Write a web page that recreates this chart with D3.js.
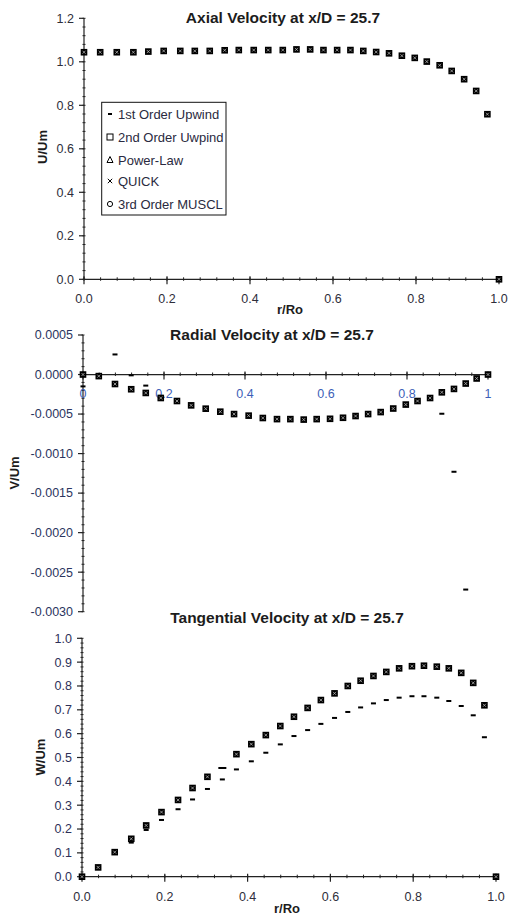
<!DOCTYPE html>
<html><head><meta charset="utf-8">
<script src="https://cdn.jsdelivr.net/npm/d3@7"></script>
<style>
body{margin:0;background:#fff;}
svg{display:block;font-family:"Liberation Sans",Arial,sans-serif;}
</style></head>
<body><svg id="c" width="509" height="916"></svg>
<script>
// ---- data ----
const rPos = [0,0.039,0.079,0.119,0.155,0.192,0.232,0.267,0.303,0.339,0.373,0.409,0.444,0.479,0.512,0.545,0.577,0.61,0.642,0.673,0.704,0.735,0.766,0.797,0.826,0.857,0.886,0.916,0.945,0.972,1.0];

const seriesNames = ["1st Order Upwind","2nd Order Uwpind","Power-Law","QUICK","3rd Order MUSCL"];

// Axial velocity U/Um (all schemes nearly coincide)
const U_main = [1.044,1.044,1.044,1.044,1.047,1.05,1.05,1.05,1.05,1.053,1.054,1.054,1.054,1.054,1.057,1.057,1.054,1.054,1.054,1.05,1.045,1.039,1.028,1.018,1.001,0.984,0.958,0.92,0.866,0.759,0];
const U_first = [1.044,1.044,1.044,1.044,1.047,1.05,1.05,1.05,1.05,1.053,1.054,1.054,1.054,1.054,1.057,1.057,1.054,1.054,1.054,1.05,1.045,1.039,1.028,1.018,1.001,0.984,0.958,0.92,0.866,0.759,0];

// Radial velocity V/Um
const V_main = [0,-0.00002,-0.00012,-0.000186,-0.000233,-0.000297,-0.000335,-0.00039,-0.000432,-0.00047,-0.0005,-0.00052,-0.00055,-0.000564,-0.000564,-0.00057,-0.000564,-0.00056,-0.000547,-0.000525,-0.0005,-0.000475,-0.00043,-0.00038,-0.000335,-0.000297,-0.000225,-0.000182,-0.000114,-0.00005,0];
const V_first = [-0.00015,-0.00001,0.000254,-0.00001,-0.00014,-0.00027,-0.000335,-0.00039,-0.000432,-0.00047,-0.0005,-0.00052,-0.00055,-0.000564,-0.000564,-0.00057,-0.000564,-0.00056,-0.000547,-0.000525,-0.0005,-0.000475,-0.00043,-0.00038,-0.000335,-0.000297,-0.000496,-0.00123,-0.00272,null,0];

// Tangential velocity W/Um
const W_main = [0,0.039,0.103,0.159,0.215,0.271,0.322,0.372,0.419,null,0.514,0.556,0.594,0.632,0.671,0.708,0.741,0.769,0.8,0.822,0.842,0.859,0.874,0.883,0.885,0.881,0.874,0.855,0.813,0.719,0];
const W_first = [0,0.034,0.098,0.143,0.196,0.238,0.283,0.324,0.368,0.408,0.45,0.484,0.52,0.555,0.59,0.615,0.641,0.666,0.691,0.71,0.727,0.741,0.751,0.757,0.757,0.751,0.737,0.716,0.677,0.585,0];
const W_oddR = [0.339];
const W_oddV = [0.456];

const uTicks = [0,0.2,0.4,0.6,0.8,1.0,1.2];
const vTicks = [0.0005,0,-0.0005,-0.001,-0.0015,-0.002,-0.0025,-0.003];
const wTicks = [0,0.1,0.2,0.3,0.4,0.5,0.6,0.7,0.8,0.9,1.0];
const rTicks = [0,0.2,0.4,0.6,0.8,1.0];

// ---- drawing ----
const svg = d3.select("#c");
const hy = f => (v => f(v).replace("\u2212","-"));

function marker(g, type, cx, cy){
  if(type==="dash"){
    g.append("rect").attr("x",cx-2.5).attr("y",cy-1).attr("width",5).attr("height",2).attr("fill","#000");
  } else if(type==="wdash"){
    g.append("rect").attr("x",cx-4).attr("y",cy-1).attr("width",8).attr("height",2).attr("fill","#000");
  } else if(type==="main"){
    // overlapping 2nd order, power-law, QUICK, MUSCL markers
    g.append("rect").attr("x",cx-3.3).attr("y",cy-3.3).attr("width",6.6).attr("height",6.6).attr("fill","#000");
    g.append("path").attr("d",`M${cx-1.5},${cy-1.5}L${cx+1.5},${cy+1.5}M${cx+1.5},${cy-1.5}L${cx-1.5},${cy+1.5}`).attr("stroke","#fff").attr("stroke-width",0.7).attr("opacity",0.8);
  }
}

function drawPanel(cfg){
  const g = svg.append("g");
  const x = d3.scaleLinear().domain([0,1]).range([cfg.x0,cfg.x1]);
  const y = d3.scaleLinear().domain(cfg.yDomain).range([cfg.yBottom,cfg.yTop]);
  const axY = y(cfg.xAxisAt);

  // y axis
  const ya = g.append("g").attr("transform",`translate(${cfg.x0},0)`);
  ya.append("line").attr("x1",0).attr("x2",0).attr("y1",y(cfg.yDomain[0])).attr("y2",y(cfg.yDomain[1])).attr("stroke","#222").attr("stroke-width",1.2);
  const yMinor = d3.range(Math.round((cfg.yDomain[1]-cfg.yDomain[0])/cfg.yMinor)+1).map(i=>cfg.yDomain[0]+i*cfg.yMinor);
  yMinor.forEach(v=>ya.append("line").attr("x1",-1.5).attr("x2",1.5).attr("y1",y(v)).attr("y2",y(v)).attr("stroke","#222").attr("stroke-width",1));
  cfg.yTicks.forEach(v=>{
    ya.append("line").attr("x1",-5).attr("x2",0).attr("y1",y(v)).attr("y2",y(v)).attr("stroke","#222").attr("stroke-width",1.2);
    ya.append("text").attr("x",-10).attr("y",y(v)).attr("dy","0.35em").attr("text-anchor","end")
      .attr("font-size",cfg.tickFont).attr("fill",cfg.yColor).text(cfg.yFmt(v));
  });

  // x axis
  const xa = g.append("g").attr("transform",`translate(0,${axY})`);
  xa.append("line").attr("x1",cfg.x0).attr("x2",cfg.x1).attr("stroke","#222").attr("stroke-width",1.2);
  d3.range(26).map(i=>i*0.04).forEach(v=>xa.append("line").attr("x1",x(v)).attr("x2",x(v)).attr("y1",-2).attr("y2",1.5).attr("stroke","#222").attr("stroke-width",1));
  rTicks.forEach(v=>{
    xa.append("line").attr("x1",x(v)).attr("x2",x(v)).attr("y1",-3).attr("y2",5).attr("stroke","#222").attr("stroke-width",1.2);
    xa.append("text").attr("x",x(v)).attr("y",cfg.xLabelDy).attr("text-anchor","middle")
      .attr("font-size",cfg.tickFont).attr("fill",cfg.xColor).text(cfg.xFmt(v));
  });

  // title
  g.append("text").attr("x",cfg.titleX).attr("y",cfg.titleY).attr("text-anchor","middle")
    .attr("font-size",15.5).attr("font-weight","bold").attr("fill","#1c1c1c").text(cfg.title);
  // axis labels
  g.append("text").attr("transform",`translate(${cfg.yLabX},${cfg.yLabY}) rotate(-90)`).attr("text-anchor","middle")
    .attr("font-size",13).attr("font-weight","bold").attr("fill","#1c1c1c").text(cfg.yLabel);
  if(cfg.xLabel){
    g.append("text").attr("x",cfg.xLabX).attr("y",cfg.xLabY).attr("text-anchor","middle")
      .attr("font-size",13).attr("font-weight","bold").attr("fill","#1c1c1c").text(cfg.xLabel);
  }

  // markers
  const mg = g.append("g");
  cfg.first.forEach((v,i)=>{ if(v!==null) marker(mg,"dash",x(rPos[i]),y(v)); });
  cfg.main.forEach((v,i)=>{ if(v!==null) marker(mg,"main",x(rPos[i]),y(v)); });
  if(cfg.oddR){ cfg.oddR.forEach((r,i)=>marker(mg,"wdash",x(r),y(cfg.oddV[i]))); }
  return {g,x,y};
}

const f1 = d3.format(".1f");
drawPanel({x0:84,x1:499,yDomain:[0,1.2],yBottom:279.3,yTop:18.3,xAxisAt:0,yTicks:uTicks,yMinor:0.04,
  yFmt:f1,xFmt:f1,tickFont:12.5,yColor:"#2e2e3a",xColor:"#2e2e3a",xLabelDy:24,
  title:"Axial Velocity at x/D = 25.7",titleX:283,titleY:23,yLabel:"U/Um",yLabX:47,yLabY:147,
  xLabel:"r/Ro",xLabX:290,xLabY:314,main:U_main,first:U_first});

drawPanel({x0:83,x1:488,yDomain:[-0.003,0.0005],yBottom:611.7,yTop:335,xAxisAt:0,yTicks:vTicks,yMinor:0.0001,
  yFmt:hy(d3.format(".4f")),xFmt:d3.format("~g"),tickFont:12.5,yColor:"#2b3560",xColor:"#3d5fb8",xLabelDy:23,
  title:"Radial Velocity at x/D = 25.7",titleX:272,titleY:340,yLabel:"V/Um",yLabX:19,yLabY:473,
  xLabel:null,main:V_main,first:V_first});

drawPanel({x0:82,x1:496,yDomain:[0,1.0],yBottom:876.7,yTop:638.3,xAxisAt:0,yTicks:wTicks,yMinor:0.02,
  yFmt:f1,xFmt:f1,tickFont:12.5,yColor:"#2e3058",xColor:"#2e2e3a",xLabelDy:24,
  title:"Tangential Velocity at x/D = 25.7",titleX:287,titleY:623,yLabel:"W/Um",yLabX:45,yLabY:757,
  xLabel:"r/Ro",xLabX:287,xLabY:913,main:W_main,first:W_first,oddR:W_oddR,oddV:W_oddV});

// legend (top panel)
const lg = svg.append("g");
lg.append("rect").attr("x",101.7).attr("y",102.3).attr("width",124.3).attr("height",112.7).attr("fill","#fff").attr("stroke","#111").attr("stroke-width",1);
const legTypes = ["dash","square","tri","x","circle"];
const legY = [114,137,160,181,204];
seriesNames.forEach((n,i)=>{
  const m = lg.append("g");
  if(legTypes[i]==="square"){
    m.append("rect").attr("x",107).attr("y",legY[i]-3).attr("width",6).attr("height",6).attr("fill","none").attr("stroke","#000").attr("stroke-width",1);
  } else if(legTypes[i]==="tri"){
    m.append("path").attr("d",`M110,${legY[i]-3.5}L113,${legY[i]+2.5}L107,${legY[i]+2.5}Z`).attr("fill","none").attr("stroke","#000").attr("stroke-width",1);
  } else if(legTypes[i]==="x"){
    m.append("path").attr("d",`M107.8,${legY[i]-2.2}L112.2,${legY[i]+2.2}M112.2,${legY[i]-2.2}L107.8,${legY[i]+2.2}`).attr("stroke","#000").attr("stroke-width",1);
  } else if(legTypes[i]==="circle"){
    m.append("circle").attr("cx",110).attr("cy",legY[i]).attr("r",2.6).attr("fill","none").attr("stroke","#000").attr("stroke-width",1);
  } else {
    m.append("rect").attr("x",108).attr("y",legY[i]-1).attr("width",4).attr("height",2).attr("fill","#000");
  }
  lg.append("text").attr("x",118).attr("y",legY[i]).attr("dy","0.36em").attr("font-size",13).attr("fill","#2a2a40").text(n);
});
</script></body></html>
